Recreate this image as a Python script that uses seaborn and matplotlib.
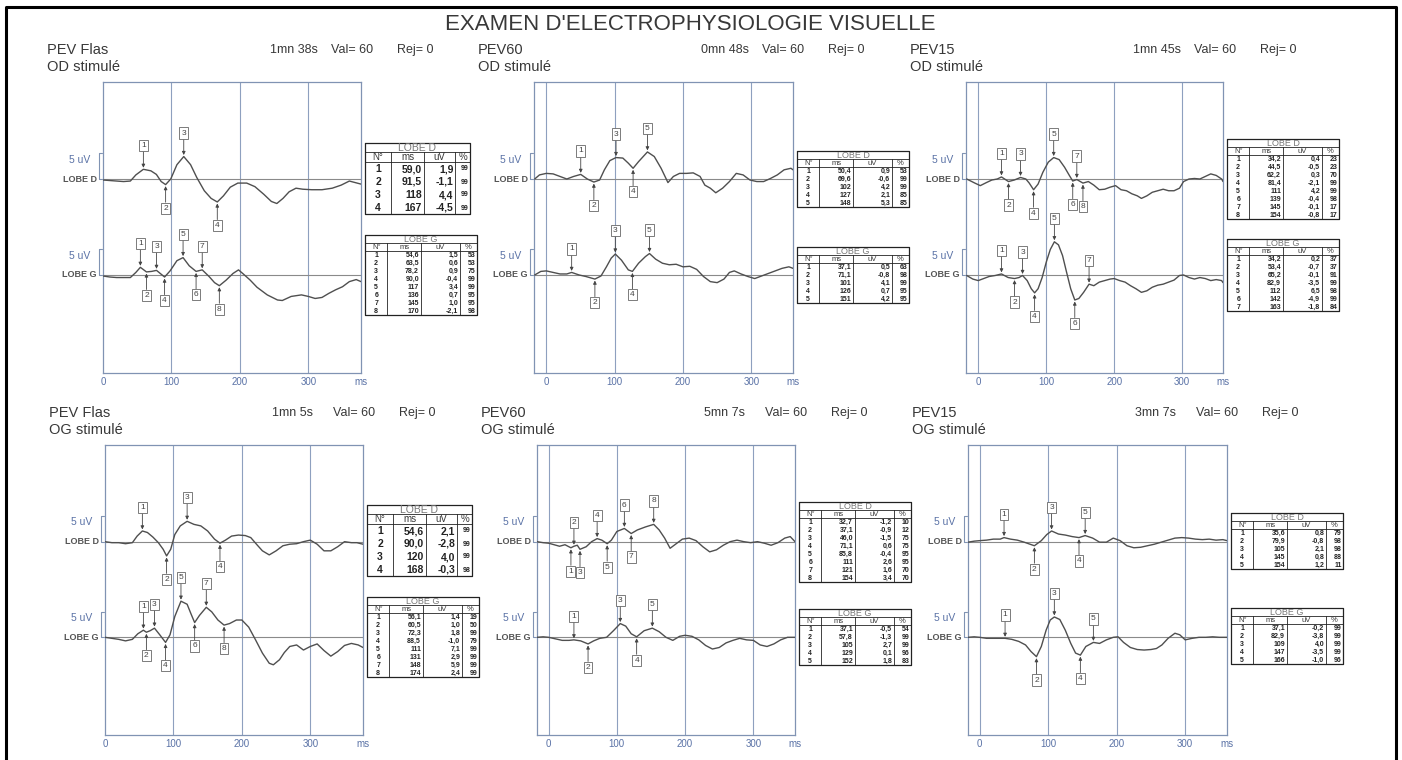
import numpy as np
import matplotlib
matplotlib.use("Agg")
import matplotlib.pyplot as plt
import matplotlib.transforms as mtransforms
import seaborn as sns

# ---------------------------
# Report text
# ---------------------------
TITLE = "EXAMEN D'ELECTROPHYSIOLOGIE VISUELLE"
protocols = ["PEV Flas", "PEV60", "PEV15", "PEV Flas", "PEV60", "PEV15"]
stimulated = ["OD stimulé", "OD stimulé", "OD stimulé", "OG stimulé", "OG stimulé", "OG stimulé"]
durations = ["1mn 38s", "0mn 48s", "1mn 45s", "1mn 5s", "5mn 7s", "3mn 7s"]
valid = [60, 60, 60, 60, 60, 60]
rejected = [0, 0, 0, 0, 0, 0]
tick_ms = [0, 100, 200, 300]

# ---------------------------
# Traces (ms, uV)
# ---------------------------
p1_d_ms = [0, 10, 20, 30, 40, 48, 59, 70, 78, 85, 91.5, 99, 108, 118, 128, 137, 148, 158, 167, 176,
           186, 197, 210, 222, 235, 246, 254, 263, 272, 282, 292, 305, 320, 335, 348, 360, 377]
p1_d_uv = [-0.2, -0.3, -0.4, -0.5, -0.4, 0.8, 1.9, 1.6, 0.9, -0.5, -1.1, 0.0, 2.8, 4.4, 2.8, 0.3, -2.3, -3.8, -4.5, -3.3,
           -1.6, -0.8, -0.8, -1.5, -3.0, -4.4, -4.8, -3.8, -2.5, -1.8, -2.0, -2.1, -2.1, -1.8, -1.2, -0.4, -1.0]
p1_g_ms = [0, 10, 20, 30, 40, 48, 54.6, 63.5, 71, 78.2, 90, 98, 108, 117, 126, 136, 145, 155, 163, 170,
           180, 190, 198, 205, 215, 225, 240, 255, 262, 275, 290, 300, 310, 320, 330, 340, 350, 360, 370, 377]
p1_g_uv = [-0.2, -0.4, -0.5, -0.5, -0.5, 0.5, 1.5, 0.6, 0.7, 0.9, -0.4, 0.8, 2.8, 3.4, 1.8, 0.7, 1.0, -0.3, -1.5, -2.1,
           -1.0, 0.3, 1.0, 0.2, -1.0, -2.4, -3.9, -4.9, -5.0, -4.2, -3.9, -4.2, -4.6, -4.4, -3.6, -2.9, -2.3, -1.3, -0.9, -1.3]

p2_d_ms = [-17, -10, 0, 10, 20, 30, 40, 50.4, 60, 69.6, 78, 85, 93, 102, 112, 120, 127, 135, 148, 158, 168,
           178, 186, 195, 205, 215, 225, 232, 240, 248, 258, 268, 278, 288, 298, 308, 318, 328, 338, 348, 358, 361]
p2_d_uv = [0.0, 0.8, 1.1, 1.0, 0.5, 0.0, 0.5, 0.9, 0.0, -0.6, -0.2, 1.8, 3.6, 4.2, 4.1, 3.1, 2.1, 3.4, 5.3, 4.4, 2.1,
           -0.7, 0.5, 1.1, 1.1, 1.2, 0.5, -1.2, -1.8, -2.7, -1.8, -0.5, 1.1, 0.8, -0.2, -0.5, -0.5, 0.1, 0.8, 1.8, 2.1, 1.8]
p2_g_ms = [-17, -8, 0, 10, 20, 30, 37.1, 48, 58, 71.1, 80, 88, 95, 101, 110, 120, 126, 135, 145, 151, 160,
           170, 180, 190, 200, 210, 220, 230, 240, 250, 260, 268, 275, 285, 295, 305, 315, 325, 335, 345, 355, 361]
p2_g_uv = [0.0, 0.7, 0.8, 0.5, 0.2, 0.2, 0.5, 0.0, -0.3, -0.8, -0.2, 1.6, 3.3, 4.1, 2.9, 1.0, 0.7, 2.3, 3.6, 4.2, 3.1,
           2.3, 2.0, 2.1, 1.6, 1.7, 1.1, -0.3, -1.3, -1.5, -0.8, 0.5, 0.8, 0.2, -0.3, -0.7, -0.2, 0.3, 0.8, 1.3, 1.6, 1.3]

p3_d_ms = [-17, -5, 3, 12, 20, 28, 34.2, 44.5, 53, 62.2, 70, 75, 81.4, 88, 95, 103, 111, 119, 127, 134, 139, 145,
           154, 162, 170, 178, 186, 194, 202, 210, 218, 226, 234, 240, 248, 256, 264, 272, 280, 288, 296, 302,
           310, 318, 326, 334, 342, 350, 358, 360]
p3_d_uv = [0.0, -0.8, -1.3, -0.7, -0.2, 0.0, 0.4, -0.5, -0.2, 0.3, 0.0, -0.8, -2.1, -1.0, 1.3, 3.3, 4.2, 3.8, 2.3, 0.7, -0.4, -0.1,
           -0.8, -0.5, -1.2, -2.1, -2.0, -1.6, -1.3, -2.1, -2.3, -2.9, -3.3, -3.8, -3.3, -2.6, -2.3, -2.0, -2.3, -2.3, -1.8, -0.5,
           0.0, 0.1, 0.0, 0.5, 1.0, 0.7, 0.0, -0.5]
p3_g_ms = [-17, -8, 0, 8, 16, 25, 34.2, 44, 53.4, 60, 65.2, 72, 78, 82.9, 88, 94, 100, 106, 112, 118, 124, 130,
           136, 142, 148, 155, 163, 170, 178, 186, 194, 200, 208, 216, 224, 232, 240, 248, 256, 264, 272, 280,
           288, 296, 302, 310, 318, 326, 334, 342, 350, 358, 360]
p3_g_uv = [-0.1, -0.8, -1.1, -0.7, -0.3, -0.1, 0.2, -0.5, -0.7, -0.5, -0.1, -1.1, -2.7, -3.5, -2.7, -0.5, 2.5, 5.0, 6.5, 5.9, 3.8, 0.5,
           -2.7, -4.9, -4.6, -3.4, -1.8, -2.1, -1.4, -1.1, -0.8, -0.7, -1.1, -1.4, -2.1, -2.7, -3.4, -3.1, -2.4, -2.0, -1.8, -1.4,
           -1.0, -0.1, 0.0, -0.5, -0.8, -0.5, -0.7, -1.1, -0.9, -1.1, -1.5]

p4_d_ms = [0, 10, 20, 30, 40, 47, 54.6, 62, 70, 78, 85, 90, 96, 102, 110, 120, 130, 140, 150, 160, 168, 176,
           185, 195, 205, 213, 222, 230, 240, 250, 260, 270, 280, 290, 300, 310, 320, 330, 340, 350, 360, 368, 377]
p4_d_uv = [0.0, -0.2, -0.2, -0.4, -0.2, 1.1, 2.1, 1.8, 0.9, -0.2, -1.5, -2.8, -1.5, 1.4, 3.1, 4.0, 3.4, 3.1, 2.1, 0.5, -0.3, 0.3,
           1.1, 1.3, 1.2, 0.8, -0.6, -1.8, -2.6, -1.8, -0.8, -0.5, -0.4, 0.0, 0.3, -0.5, -1.8, -1.8, -1.0, 0.0, -0.2, -0.2, -0.5]
p4_g_ms = [0, 10, 20, 30, 40, 48, 56.1, 60.5, 66, 72.3, 80, 88.5, 95, 102, 111, 120, 126, 131, 138, 148, 156, 165,
           174, 182, 192, 200, 210, 220, 230, 240, 246, 255, 262, 270, 280, 290, 300, 310, 320, 330, 340, 350, 360, 370, 377]
p4_g_uv = [0.0, -0.2, -0.4, -0.7, -0.4, 0.7, 1.4, 1.0, 1.3, 1.8, 0.5, -1.0, 0.5, 4.1, 7.1, 6.5, 4.5, 2.9, 4.3, 5.9, 5.0, 3.4,
           2.4, 2.7, 3.4, 3.4, 2.0, -0.5, -3.1, -5.1, -5.4, -4.4, -3.0, -1.8, -1.5, -2.5, -1.8, -1.3, -2.6, -3.7, -2.8, -1.6, -1.2, -1.5, -2.0]

p5_d_ms = [-17, -8, 0, 8, 16, 24, 32.7, 37.1, 42, 46, 55, 63, 71.1, 78, 85.8, 92, 100, 111, 121, 130, 142, 154,
           162, 170, 178, 186, 196, 206, 216, 226, 236, 246, 256, 266, 276, 286, 296, 306, 316, 326, 336, 346, 354, 361]
p5_d_uv = [0.0, -0.2, -0.3, -0.6, -0.9, -0.6, -1.2, -0.9, -0.7, -1.5, -1.0, 0.0, 0.6, 0.3, -0.4, 0.3, 2.0, 2.6, 1.6, 2.3, 2.9, 3.4,
           2.3, 0.7, -1.3, -0.5, 0.5, 0.7, 0.2, -1.0, -2.0, -1.6, -0.7, 0.0, 0.3, 0.0, -0.2, 0.0, -0.3, -0.7, -0.2, 0.7, 1.0, 0.0]
p5_g_ms = [-17, -8, 0, 10, 20, 30, 37.1, 47, 57.8, 66, 75, 85, 95, 105, 113, 121, 129, 140, 152, 162,
           172, 182, 192, 200, 210, 220, 230, 240, 250, 260, 270, 280, 290, 300, 310, 320, 330, 340, 350, 361]
p5_g_uv = [0.0, 0.1, 0.0, -0.3, -0.6, -0.6, -0.5, -0.7, -1.3, -0.7, -0.2, 0.0, 1.3, 2.7, 2.2, 0.7, 0.1, 1.3, 1.8, 1.1,
           0.0, -0.6, 0.2, 0.4, 0.2, -0.5, -1.6, -2.3, -2.0, -1.1, -0.6, -0.2, -0.5, -0.6, -1.5, -1.8, -1.3, -0.5, 0.0, 0.0]

p6_d_ms = [-17, -8, 0, 10, 20, 30, 35.6, 45, 55, 65, 79.9, 90, 98, 105, 115, 125, 135, 145, 154, 165,
           175, 185, 195, 205, 215, 225, 235, 245, 255, 265, 275, 285, 295, 305, 315, 325, 335, 345, 355, 361]
p6_d_uv = [-0.1, 0.1, 0.2, 0.3, 0.5, 0.5, 0.8, 0.5, 0.3, -0.1, -0.8, 0.2, 1.4, 2.1, 1.5, 1.3, 1.0, 0.8, 1.2, 0.7,
           -0.1, -0.1, 0.7, 0.2, -0.8, -1.2, -1.1, -0.8, -0.5, -0.1, 0.3, 0.7, 0.8, 0.7, 0.5, 0.4, 0.5, 0.3, 0.4, 0.2]
p6_g_ms = [-17, -8, 0, 10, 20, 30, 37.1, 47, 57, 67, 75, 82.9, 90, 97, 103, 109, 117, 125, 133, 140, 147, 155,
           166, 175, 185, 195, 202, 210, 220, 230, 240, 250, 258, 266, 275, 285, 292, 300, 310, 320, 330, 340, 350, 361]
p6_g_uv = [0.0, 0.1, 0.0, -0.2, -0.2, -0.2, -0.2, -0.4, -0.8, -1.5, -2.8, -3.8, -1.8, 1.4, 3.4, 4.0, 3.5, 1.4, -1.2, -3.1, -3.5, -1.8,
           -1.0, -1.2, -0.5, 0.0, 0.1, -1.0, -2.0, -2.4, -2.5, -2.4, -2.2, -1.5, -0.2, 0.8, 0.5, -0.5, -0.2, 0.0, 0.0, 0.1, 0.0, 0.0]

# ---------------------------
# Marked peaks (tables): latency ms, amplitude uV, %, marker side (+1 above / -1 below)
# ---------------------------
p1_d_pk_ms = [59.0, 91.5, 118, 167]
p1_d_pk_uv = [1.9, -1.1, 4.4, -4.5]
p1_d_pk_pct = [99, 99, 99, 99]
p1_d_side = [1, -1, 1, -1]
p1_g_pk_ms = [54.6, 63.5, 78.2, 90.0, 117, 136, 145, 170]
p1_g_pk_uv = [1.5, 0.6, 0.9, -0.4, 3.4, 0.7, 1.0, -2.1]
p1_g_pk_pct = [53, 53, 75, 99, 99, 95, 95, 98]
p1_g_side = [1, -1, 1, -1, 1, -1, 1, -1]

p2_d_pk_ms = [50.4, 69.6, 102, 127, 148]
p2_d_pk_uv = [0.9, -0.6, 4.2, 2.1, 5.3]
p2_d_pk_pct = [53, 99, 99, 85, 85]
p2_d_side = [1, -1, 1, -1, 1]
p2_g_pk_ms = [37.1, 71.1, 101, 126, 151]
p2_g_pk_uv = [0.5, -0.8, 4.1, 0.7, 4.2]
p2_g_pk_pct = [63, 98, 99, 95, 95]
p2_g_side = [1, -1, 1, -1, 1]

p3_d_pk_ms = [34.2, 44.5, 62.2, 81.4, 111, 139, 145, 154]
p3_d_pk_uv = [0.4, -0.5, 0.3, -2.1, 4.2, -0.4, -0.1, -0.8]
p3_d_pk_pct = [23, 23, 70, 99, 99, 98, 17, 17]
p3_d_side = [1, -1, 1, -1, 1, -1, 1, -1]
p3_g_pk_ms = [34.2, 53.4, 65.2, 82.9, 112, 142, 163]
p3_g_pk_uv = [0.2, -0.7, -0.1, -3.5, 6.5, -4.9, -1.8]
p3_g_pk_pct = [37, 37, 91, 99, 98, 99, 84]
p3_g_side = [1, -1, 1, -1, 1, -1, 1]

p4_d_pk_ms = [54.6, 90.0, 120, 168]
p4_d_pk_uv = [2.1, -2.8, 4.0, -0.3]
p4_d_pk_pct = [99, 99, 99, 98]
p4_d_side = [1, -1, 1, -1]
p4_g_pk_ms = [56.1, 60.5, 72.3, 88.5, 111, 131, 148, 174]
p4_g_pk_uv = [1.4, 1.0, 1.8, -1.0, 7.1, 2.9, 5.9, 2.4]
p4_g_pk_pct = [19, 50, 99, 79, 99, 99, 99, 99]
p4_g_side = [1, -1, 1, -1, 1, -1, 1, -1]

p5_d_pk_ms = [32.7, 37.1, 46.0, 71.1, 85.8, 111, 121, 154]
p5_d_pk_uv = [-1.2, -0.9, -1.5, 0.6, -0.4, 2.6, 1.6, 3.4]
p5_d_pk_pct = [10, 12, 75, 75, 95, 95, 70, 70]
p5_d_side = [-1, 1, -1, 1, -1, 1, -1, 1]
p5_g_pk_ms = [37.1, 57.8, 105, 129, 152]
p5_g_pk_uv = [-0.5, -1.3, 2.7, 0.1, 1.8]
p5_g_pk_pct = [54, 99, 99, 96, 83]
p5_g_side = [1, -1, 1, -1, 1]

p6_d_pk_ms = [35.6, 79.9, 105, 145, 154]
p6_d_pk_uv = [0.8, -0.8, 2.1, 0.8, 1.2]
p6_d_pk_pct = [79, 98, 98, 88, 11]
p6_d_side = [1, -1, 1, -1, 1]
p6_g_pk_ms = [37.1, 82.9, 109, 147, 166]
p6_g_pk_uv = [-0.2, -3.8, 4.0, -3.5, -1.0]
p6_g_pk_pct = [99, 99, 99, 99, 96]
p6_g_side = [1, -1, 1, -1, 1]

panels = [
    ((p1_d_ms, p1_d_uv, p1_d_pk_ms, p1_d_pk_uv, p1_d_pk_pct, p1_d_side),
     (p1_g_ms, p1_g_uv, p1_g_pk_ms, p1_g_pk_uv, p1_g_pk_pct, p1_g_side)),
    ((p2_d_ms, p2_d_uv, p2_d_pk_ms, p2_d_pk_uv, p2_d_pk_pct, p2_d_side),
     (p2_g_ms, p2_g_uv, p2_g_pk_ms, p2_g_pk_uv, p2_g_pk_pct, p2_g_side)),
    ((p3_d_ms, p3_d_uv, p3_d_pk_ms, p3_d_pk_uv, p3_d_pk_pct, p3_d_side),
     (p3_g_ms, p3_g_uv, p3_g_pk_ms, p3_g_pk_uv, p3_g_pk_pct, p3_g_side)),
    ((p4_d_ms, p4_d_uv, p4_d_pk_ms, p4_d_pk_uv, p4_d_pk_pct, p4_d_side),
     (p4_g_ms, p4_g_uv, p4_g_pk_ms, p4_g_pk_uv, p4_g_pk_pct, p4_g_side)),
    ((p5_d_ms, p5_d_uv, p5_d_pk_ms, p5_d_pk_uv, p5_d_pk_pct, p5_d_side),
     (p5_g_ms, p5_g_uv, p5_g_pk_ms, p5_g_pk_uv, p5_g_pk_pct, p5_g_side)),
    ((p6_d_ms, p6_d_uv, p6_d_pk_ms, p6_d_pk_uv, p6_d_pk_pct, p6_d_side),
     (p6_g_ms, p6_g_uv, p6_g_pk_ms, p6_g_pk_uv, p6_g_pk_pct, p6_g_side)),
]

# ---------------------------
# Layout (pixels on a 1402x760 page)
# ---------------------------
W, H = 1402, 760
boxes = [(103, 82, 361, 373), (534, 82, 793, 373), (966, 82, 1223, 373),
         (105, 445, 363, 735), (537, 445, 795, 735), (968, 445, 1227, 735)]
xlims = [(0, 377), (-18, 361), (-18, 360), (0, 377), (-17, 361), (-17, 361)]
table_tops = [(143, 235), (151, 247), (139, 239), (505, 597), (502, 609), (513, 608)]
G_OFF = -18.8
YLIM = (-38, 19)

TXT = "#383838"
TRACE = "#4f4f4f"
FRAME = "#8093b3"
GRID = "#8ea0bf"
BLUE = "#5a72a6"

sns.set_theme(style="white")
plt.rcParams["font.family"] = ["Liberation Sans", "DejaVu Sans"]

fig = plt.figure(figsize=(W / 100, H / 100), dpi=100)
bg = fig.add_axes([0, 0, 1, 1])
bg.set_xlim(0, W)
bg.set_ylim(H, 0)
bg.axis("off")

# page frame and title
bg.plot([6, 6, 1396, 1396], [H + 10, 7, 7, H + 10], color="black", lw=2.2)
bg.text(690, 24, TITLE, ha="center", va="center", fontsize=16, color=TXT)


def fmt_ms(v):
    return f"{v:.0f}" if v >= 100 else f"{v:.1f}".replace(".", ",")


def fmt_uv(v):
    return f"{v:.1f}".replace(".", ",")


def draw_table(l, t, title, ms, uv, pct, big):
    width = 105 if big else 112
    fr = [0.25, 0.31, 0.30, 0.14] if big else [0.2, 0.3, 0.35, 0.15]
    th, hh, rh = (9, 10, 13) if big else (8, 8, 8)
    n = len(ms)
    r = l + width
    b = t + th + hh + n * rh
    xs = l + width * np.cumsum([0] + fr)
    bg.plot([l, r, r, l, l], [t, t, b, b, t], color="#222222", lw=0.9)
    bg.plot([l, r], [t + th, t + th], color="#222222", lw=0.6)
    bg.plot([l, r], [t + th + hh, t + th + hh], color="#222222", lw=0.6)
    for x in xs[1:-1]:
        bg.plot([x, x], [t + th, b], color="#222222", lw=0.6)
    fs_t, fs_h, fs_v, fs_p = (7.5, 7, 7.5, 5) if big else (6.5, 5.5, 5, 5)
    bg.text((l + r) / 2, t + th / 2 + 0.5, title, ha="center", va="center", fontsize=fs_t, color="#777777")
    yh = t + th + hh / 2 + 0.5
    bg.text((xs[0] + xs[1]) / 2, yh, "N°", ha="center", va="center", fontsize=fs_h, color=TXT)
    for k, lab in enumerate(["ms", "uV", "%"]):
        bg.text((xs[k + 1] + xs[k + 2]) / 2, yh, lab, ha="center", va="center", fontsize=fs_h, color=TXT)
    for j in range(n):
        y = t + th + hh + (j + 0.5) * rh + 0.5
        kw = dict(va="center", color="#222222", fontweight="bold")
        bg.text((xs[0] + xs[1]) / 2, y, str(j + 1), ha="center", fontsize=fs_v, **kw)
        bg.text(xs[2] - 2, y, fmt_ms(ms[j]), ha="right", fontsize=fs_v, **kw)
        bg.text(xs[3] - 2, y, fmt_uv(uv[j]), ha="right", fontsize=fs_v, **kw)
        bg.text(xs[4] - 1.5, y, str(pct[j]), ha="right", fontsize=fs_p, **kw)


for i, (l, t, r, b) in enumerate(boxes):
    # headers
    bg.text(l - 56, t - 32, protocols[i], va="center", fontsize=10.5, color=TXT)
    bg.text(l - 56, t - 15, stimulated[i], va="center", fontsize=10.5, color=TXT)
    bg.text(l + 167, t - 32, durations[i], va="center", fontsize=9, color=TXT)
    bg.text(l + 228, t - 32, f"Val= {valid[i]}", va="center", fontsize=9, color=TXT)
    bg.text(l + 294, t - 32, f"Rej= {rejected[i]}", va="center", fontsize=9, color=TXT)

    ax = fig.add_axes([l / W, 1 - b / H, (r - l) / W, (b - t) / H])
    ax.set_facecolor("none")
    x0, x1 = xlims[i]
    ax.set_xlim(x0, x1)
    ax.set_ylim(*YLIM)
    for sp in ax.spines.values():
        sp.set_color(FRAME)
        sp.set_linewidth(0.9)
    ax.set_yticks([])
    ax.set_xticks(tick_ms + [x1])
    ax.set_xticklabels([str(v) for v in tick_ms] + ["ms"])
    ax.tick_params(axis="x", length=0, pad=3, labelsize=7, labelcolor=BLUE)
    for g in tick_ms:
        if g > x0 + 1:
            ax.axvline(g, color=GRID, lw=0.8, zorder=1)

    trans = mtransforms.blended_transform_factory(ax.transAxes, ax.transData)
    for (tr, name, off) in [(panels[i][0], "LOBE D", 0.0), (panels[i][1], "LOBE G", G_OFF)]:
        ms, uv, pk_ms, pk_uv, pk_pct, side = tr
        ax.axhline(off, color="#8a8a8a", lw=0.8, zorder=1)
        sns.lineplot(x=ms, y=np.array(uv) + off, ax=ax, color=TRACE, lw=1.0,
                     sort=False, estimator=None, legend=False, zorder=3)
        # 5 uV calibration bracket and labels
        ax.plot([-0.004, -0.016, -0.016, -0.004], [off + 5, off + 5, off, off],
                transform=trans, clip_on=False, color=FRAME, lw=0.8)
        ax.text(-0.024, off, name, transform=trans, ha="right", va="center",
                fontsize=6.5, fontweight="bold", color="#555555")
        ax.text(-0.05, off + 3.8, "5 uV", transform=trans, ha="right", va="center",
                fontsize=7.5, color=BLUE)
        # peak markers
        for k in range(len(pk_ms)):
            y = pk_uv[k] + off
            ax.annotate(str(k + 1), xy=(pk_ms[k], y + side[k] * 0.3),
                        xytext=(pk_ms[k], y + side[k] * 4.6),
                        ha="center", va="center", fontsize=6, color="#444444", zorder=5,
                        bbox=dict(boxstyle="square,pad=0.25", fc="white", ec="#666666", lw=0.6),
                        arrowprops=dict(arrowstyle="-|>", mutation_scale=5, lw=0.6,
                                        color="#444444", shrinkA=0, shrinkB=0))
    ax.set_xlabel("")
    ax.set_ylabel("")

    # tables
    big = i in (0, 3)
    td, tg = table_tops[i]
    draw_table(r + 4, td, "LOBE D", panels[i][0][2], panels[i][0][3], panels[i][0][4], big)
    draw_table(r + 4, tg, "LOBE G", panels[i][1][2], panels[i][1][3], panels[i][1][4], False)

fig.savefig("out.png", dpi=100)
